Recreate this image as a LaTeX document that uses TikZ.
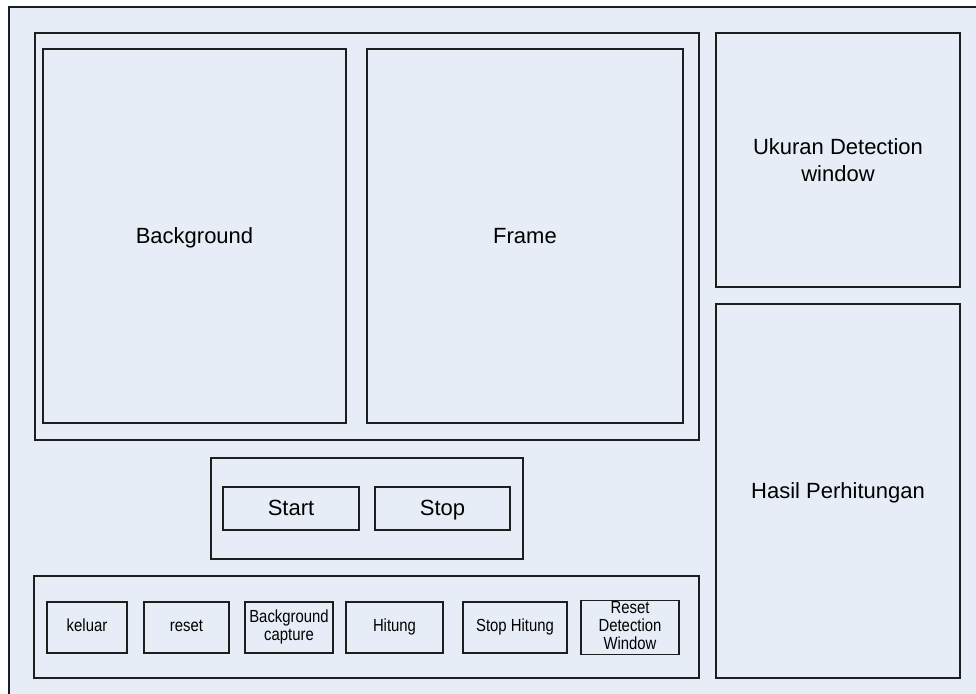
\documentclass[tikz,border=0pt]{standalone}
\usepackage{fontspec}
\setmainfont{Liberation Sans}
\definecolor{fillc}{HTML}{E6EDF7}
\definecolor{linec}{HTML}{1E1E1E}
\newcommand{\bigtxt}{\fontsize{22}{26.4}\selectfont}
\newcommand{\smtxt}[1]{\scalebox{0.85}[1]{\fontsize{17.5}{17.7}\selectfont\begin{tabular}{@{}c@{}}#1\end{tabular}}}
\tikzset{
  panel/.style={draw=linec, fill=fillc, line width=1.2pt, rectangle, inner sep=0pt, align=center},
  bigbox/.style={panel, font=\bigtxt},
  oneline/.style={bigbox, text height=20pt, text depth=6pt},
}
\begin{document}
\begin{tikzpicture}[x=1pt,y=-1pt]
\useasboundingbox (0,0) rectangle (976,693);
\fill[white] (0,0) rectangle (976,693);
% outer window
\draw[draw=linec, fill=fillc, line width=1.2pt] (9,7) rectangle (1000,720);
% main display panel
\node[panel, minimum width=664, minimum height=407] (main) at (367,236.5) {};
\node[oneline, minimum width=303, minimum height=374] (bg) at (194.5,236) {Background};
\node[oneline, minimum width=316, minimum height=374] (frame) at (525,236) {Frame};
% right side
\node[bigbox, minimum width=244, minimum height=254] (ukuran) at (838,160) {Ukuran Detection\\window};
\node[oneline, minimum width=244, minimum height=374] (hasil) at (838,491) {Hasil Perhitungan};
% start / stop
\node[panel, minimum width=312, minimum height=101] (ctrl) at (367,508.5) {};
\node[oneline, minimum width=136, minimum height=43] (start) at (291,508.5) {Start};
\node[oneline, minimum width=135, minimum height=43] (stop) at (442.5,508.5) {Stop};
% bottom buttons
\node[panel, minimum width=665, minimum height=102] (bottom) at (366.5,627) {};
\node[panel, minimum width=80, minimum height=51] (keluar) at (87,627.5) {\smtxt{keluar}};
\node[panel, minimum width=85, minimum height=51] (reset) at (186.5,627.5) {\smtxt{reset}};
\node[panel, minimum width=88, minimum height=51] (bgcap) at (289,627.5) {\smtxt{Background\\capture}};
\node[panel, minimum width=97, minimum height=51] (hitung) at (394.5,627.5) {\smtxt{Hitung}};
\node[panel, minimum width=104, minimum height=51] (stophit) at (515,627.5) {\smtxt{Stop Hitung}};
\node[panel, minimum width=98, minimum height=51] (resetdw) at (630,627.5) {\smtxt{Reset\\Detection\\Window}};
\end{tikzpicture}
\end{document}
